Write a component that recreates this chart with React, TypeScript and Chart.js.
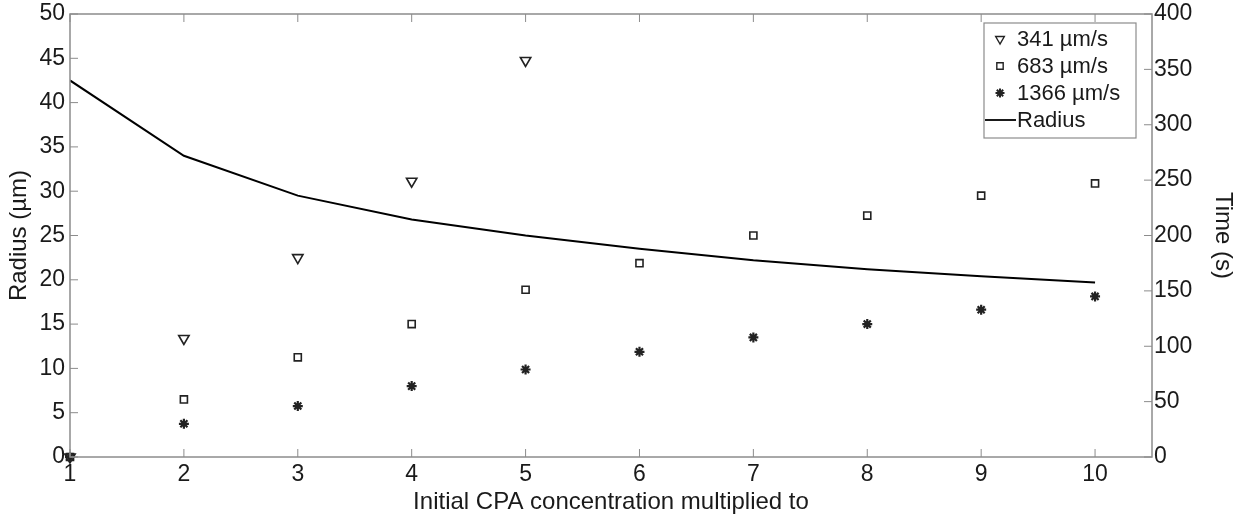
import React, { useEffect, useRef } from "react";
import { Chart, registerables } from "chart.js";
import { drawPoint } from "chart.js/helpers";

Chart.register(...registerables);

const categories = [1, 2, 3, 4, 5, 6, 7, 8, 9, 10];
const radius = [42.5, 34.0, 29.5, 26.8, 25.0, 23.5, 22.2, 21.2, 20.4, 19.7];
const t341 = [0, 107, 180, 249, 358];
const t683 = [0, 52, 90, 120, 151, 175, 200, 218, 236, 247];
const t1366 = [0, 30, 46, 64, 79, 95, 108, 120, 133, 145];
const leftTicks = [0, 5, 10, 15, 20, 25, 30, 35, 40, 45, 50];
const rightTicks = [0, 50, 100, 150, 200, 250, 300, 350, 400];
const xTicks = [1, 2, 3, 4, 5, 6, 7, 8, 9, 10];
const legendLabels = ["341 µm/s", "683 µm/s", "1366 µm/s", "Radius"];

const FONT = "'Liberation Sans', Arial, sans-serif";
const AXIS_COLOR = "#8c8c8c";
const TEXT = "#1a1a1a";

const framePlugin = {
  id: "frame",
  afterDraw(chart: any) {
    const { ctx, chartArea: a, scales } = chart;
    ctx.save();
    ctx.strokeStyle = AXIS_COLOR;
    ctx.lineWidth = 1.5;
    ctx.strokeRect(a.left, a.top, a.right - a.left, a.bottom - a.top);
    ctx.lineWidth = 1;
    const tl = 8;
    ctx.beginPath();
    for (const v of xTicks) {
      const x = scales.x.getPixelForValue(v);
      ctx.moveTo(x, a.bottom);
      ctx.lineTo(x, a.bottom - tl);
      ctx.moveTo(x, a.top);
      ctx.lineTo(x, a.top + tl);
    }
    for (const v of leftTicks) {
      const y = scales.y.getPixelForValue(v);
      ctx.moveTo(a.left, y);
      ctx.lineTo(a.left + tl, y);
    }
    for (const v of rightTicks) {
      const y = scales.y2.getPixelForValue(v);
      ctx.moveTo(a.right, y);
      ctx.lineTo(a.right - tl, y);
    }
    ctx.stroke();

    // legend
    const lx = 984, ly = 23, lw = 152, lh = 115;
    ctx.fillStyle = "#fff";
    ctx.fillRect(lx, ly, lw, lh);
    ctx.strokeStyle = AXIS_COLOR;
    ctx.lineWidth = 1.2;
    ctx.strokeRect(lx, ly, lw, lh);
    const styles = [
      { style: "triangle", rot: 180, r: 5, bw: 1.4 },
      { style: "rect", rot: 0, r: 4.5, bw: 1.4 },
      { style: "star", rot: 0, r: 4.5, bw: 2 },
      { style: "line", rot: 0, r: 0, bw: 1.8 },
    ];
    ctx.font = `22px ${FONT}`;
    ctx.textBaseline = "middle";
    ctx.textAlign = "left";
    legendLabels.forEach((label, i) => {
      const s = styles[i];
      const y = 39 + i * 27;
      if (s.style === "line") {
        ctx.strokeStyle = "#000";
        ctx.lineWidth = 1.8;
        ctx.beginPath();
        ctx.moveTo(985, y);
        ctx.lineTo(1016, y);
        ctx.stroke();
      } else {
        ctx.strokeStyle = "#222";
        ctx.fillStyle = s.style === "star" ? "#222" : "#fff";
        ctx.lineWidth = s.bw;
        drawPoint(ctx, { pointStyle: s.style as any, rotation: s.rot, radius: s.r, borderWidth: s.bw }, 1000, y);
      }
      ctx.fillStyle = TEXT;
      ctx.fillText(label, 1017, y + 1);
    });
    ctx.restore();
  },
};

export default function App() {
  const ref = useRef<HTMLCanvasElement>(null);
  useEffect(() => {
    if (!ref.current) return;
    const toXY = (arr: number[]) => arr.map((v, i) => ({ x: categories[i], y: v }));
    const chart = new Chart(ref.current, {
      type: "scatter",
      data: {
        datasets: [
          {
            label: legendLabels[0],
            data: toXY(t341),
            yAxisID: "y2",
            pointStyle: "triangle",
            rotation: 180,
            radius: 6,
            borderWidth: 1.6,
            borderColor: "#222",
            backgroundColor: "#fff",
            clip: false,
            order: 3,
          } as any,
          {
            label: legendLabels[1],
            data: toXY(t683),
            yAxisID: "y2",
            pointStyle: "rect",
            radius: 5,
            borderWidth: 1.6,
            borderColor: "#222",
            backgroundColor: "#fff",
            clip: false,
            order: 2,
          } as any,
          {
            label: legendLabels[2],
            data: toXY(t1366),
            yAxisID: "y2",
            pointStyle: "star",
            radius: 5,
            borderWidth: 2.2,
            borderColor: "#222",
            backgroundColor: "#222",
            clip: false,
            order: 1,
          } as any,
          {
            type: "line",
            label: legendLabels[3],
            data: toXY(radius),
            yAxisID: "y",
            showLine: true,
            borderColor: "#000",
            borderWidth: 2,
            pointRadius: 0,
            tension: 0,
            fill: false,
            order: 4,
          } as any,
        ],
      },
      options: {
        animation: false,
        responsive: false,
        layout: { padding: { top: 14, left: 0, right: 0, bottom: 0 } },
        plugins: { legend: { display: false }, tooltip: { enabled: false } },
        scales: {
          x: {
            type: "linear",
            min: 1,
            max: 10.5,
            border: { display: false },
            grid: { display: false, drawTicks: false },
            afterBuildTicks: (s: any) => {
              s.ticks = xTicks.map((v) => ({ value: v }));
            },
            afterFit: (s: any) => {
              s.height = 66;
              s.paddingLeft = 0;
              s.paddingRight = 0;
            },
            ticks: { color: TEXT, font: { family: FONT, size: 23 }, padding: 4, maxRotation: 0 },
            title: {
              display: true,
              text: "Initial CPA concentration multiplied to",
              color: TEXT,
              font: { family: FONT, size: 24 },
              padding: { top: 0, bottom: 6 },
            },
          },
          y: {
            position: "left",
            min: 0,
            max: 50,
            border: { display: false },
            grid: { display: false, drawTicks: false },
            afterBuildTicks: (s: any) => {
              s.ticks = leftTicks.map((v) => ({ value: v }));
            },
            afterFit: (s: any) => {
              s.width = 70;
              s.paddingTop = 0;
              s.paddingBottom = 0;
            },
            ticks: { color: TEXT, font: { family: FONT, size: 23 }, padding: 5 },
            title: {
              display: true,
              text: "Radius (µm)",
              color: TEXT,
              font: { family: FONT, size: 24 },
              padding: { top: 5, bottom: 0 },
            },
          },
          y2: {
            position: "right",
            min: 0,
            max: 400,
            border: { display: false },
            grid: { display: false, drawTicks: false },
            afterBuildTicks: (s: any) => {
              s.ticks = rightTicks.map((v) => ({ value: v }));
            },
            afterFit: (s: any) => {
              s.width = 85;
              s.paddingTop = 0;
              s.paddingBottom = 0;
            },
            ticks: { color: TEXT, font: { family: FONT, size: 23 }, padding: 2 },
            title: {
              display: true,
              text: "Time (s)",
              color: TEXT,
              font: { family: FONT, size: 24 },
              padding: { top: 0, bottom: 0 },
            },
          },
        },
      },
      plugins: [framePlugin],
    });
    return () => chart.destroy();
  }, []);
  return (
    <div style={{ position: "fixed", left: 0, top: 0, width: 1237, height: 523, background: "#fff" }}>
      <canvas ref={ref} width={1237} height={523} />
    </div>
  );
}
